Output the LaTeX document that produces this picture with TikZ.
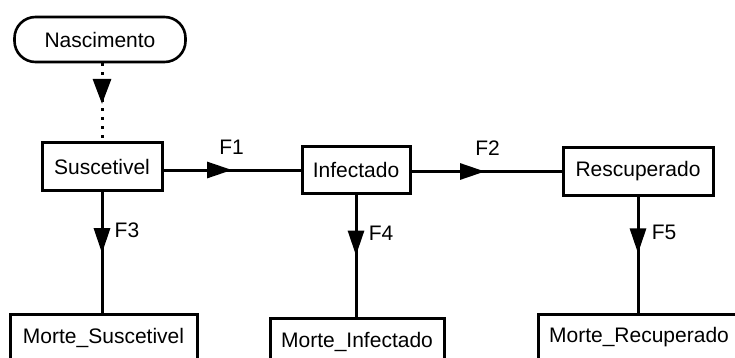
\documentclass[tikz,border=0pt]{standalone}
\usepackage{fontspec}
\setmainfont{Liberation Sans}
\usetikzlibrary{arrows.meta,decorations.markings}

\tikzset{
  txt/.style={font=\fontsize{21}{25}\selectfont, text=black},
  stock/.style={txt, draw, line width=3pt, inner sep=0pt, anchor=center},
  source/.style={txt, draw, line width=2.6pt, rounded corners=21pt, inner sep=0pt},
  flow/.style={line width=3pt, postaction={decorate},
    decoration={markings, mark=at position #1 with {\arrow{Triangle[length=25pt,width=16pt]}}}},
  birth/.style={line width=3pt, dash pattern=on 3pt off 6pt, postaction={decorate},
    decoration={markings, mark=at position #1 with {\arrow{Triangle[length=25pt,width=18pt]}}}},
  flowlabel/.style={txt, inner sep=0pt}
}

\begin{document}
\begin{tikzpicture}[x=1pt, y=-1pt]
  \useasboundingbox (0,0) rectangle (735,358);
  \clip (0,0) rectangle (735,358);

  % source of the susceptible stock
  \node[source, minimum width=171pt, minimum height=45pt] (nasc) at (100,39.5) {Nascimento};

  % main stocks
  \node[stock, minimum width=120pt, minimum height=47pt] (sus) at (102,166.5) {Suscetivel};
  \node[stock, minimum width=108pt, minimum height=46pt] (inf) at (356,170) {Infectado};
  \node[stock, minimum width=150pt, minimum height=47pt] (rec) at (638,171.5) {Rescuperado};

  % death stocks
  \node[stock, minimum width=187pt, minimum height=47pt] (msus) at (103.5,337.5) {Morte\_Suscetivel};
  \node[stock, minimum width=174pt, minimum height=47pt] (minf) at (357,341.5) {Morte\_Infectado};
  \node[stock, minimum width=202pt, minimum height=47pt] (mrec) at (639,337.5) {Morte\_Recuperado};

  % birth inflow
  \draw[birth=0.52] (nasc.south -| sus.north) -- (sus.north);

  % transfer flows
  \draw[flow=0.5]  (sus.east |- inf.west) -- (inf.west);
  \draw[flow=0.49] (inf.east |- rec.west) -- (rec.west);

  % mortality flows
  \draw[flow=0.51] (sus.south) -- (sus.south |- msus.north);
  \draw[flow=0.5]  (inf.south) -- (inf.south |- minf.north);
  \draw[flow=0.49] (rec.south) -- (rec.south |- mrec.north);

  % flow names
  \node[flowlabel] (f1) at (231.5,147) {F1};
  \node[flowlabel] (f2) at (487.5,148.5) {F2};
  \node[flowlabel] (f3) at (127,230) {F3};
  \node[flowlabel] (f4) at (381,233) {F4};
  \node[flowlabel] (f5) at (664,232) {F5};
\end{tikzpicture}
\end{document}
